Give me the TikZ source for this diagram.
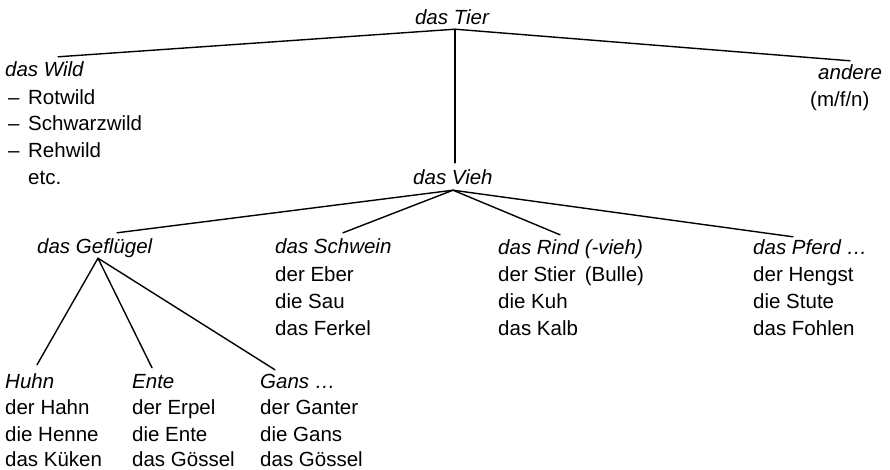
\documentclass[tikz,border=0pt]{standalone}
\usepackage{fontspec}
\setmainfont{Liberation Sans}
\usetikzlibrary{calc}
\begin{document}
\begin{tikzpicture}[x=1pt,y=-1pt,
  lbl/.style={inner sep=0pt,anchor=west,text height=14pt,text depth=2pt,font=\fontsize{20.5}{24}\selectfont},
  head/.style={lbl,font=\fontsize{20.5}{24}\selectfont\itshape},
  branch/.style={line width=1.4pt,line cap=round}]
\useasboundingbox (0,0) rectangle (890,469);

% root
\node[head,anchor=center] (tier) at (452,18) {das Tier};

% game animals
\node[head] (wild) at (5,70) {das Wild};
\node[lbl] (rot) at (5,98) {\makebox[23pt][l]{\hspace{3pt}–}Rotwild};
\node[lbl] (schwarz) at (5,124) {\makebox[23pt][l]{\hspace{3pt}–}Schwarzwild};
\node[lbl] (reh) at (5,151) {\makebox[23pt][l]{\hspace{3pt}–}Rehwild};
\node[lbl] (etc) at (28,178) {etc.};

% others
\node[head] (andere) at (818,73) {andere};
\node[lbl] (mfn) at (810,100) {(m/f/n)};

% livestock
\node[head] (vieh) at (413,178) {das Vieh};

\node[head] (gefl) at (37,247) {das Geflügel};

\node[head] (schwein) at (275,247) {das Schwein};
\node[lbl] (eber) at (275,275) {der Eber};
\node[lbl] (sau) at (275,302) {die Sau};
\node[lbl] (ferkel) at (275,329) {das Ferkel};

\node[head] (rind) at (498,248) {das Rind (-vieh)};
\node[lbl] (stier) at (498,275) {der Stier\, (Bulle)};
\node[lbl] (kuh) at (498,302) {die Kuh};
\node[lbl] (kalb) at (498,329) {das Kalb};

\node[head] (pferd) at (753,248) {das Pferd \dots};
\node[lbl] (hengst) at (753,275) {der Hengst};
\node[lbl] (stute) at (753,302) {die Stute};
\node[lbl] (fohlen) at (753,329) {das Fohlen};

% poultry
\node[head] (huhn) at (5,382) {Huhn};
\node[lbl] (hahn) at (5,408) {der Hahn};
\node[lbl] (henne) at (5,435) {die Henne};
\node[lbl] (kueken) at (5,460) {das Küken};

\node[head] (ente) at (132,382) {Ente};
\node[lbl] (erpel) at (132,408) {der Erpel};
\node[lbl] (entef) at (132,435) {die Ente};
\node[lbl] (goesa) at (132,460) {das Gössel};

\node[head] (gans) at (260,382) {Gans \dots};
\node[lbl] (ganter) at (260,408) {der Ganter};
\node[lbl] (gansf) at (260,435) {die Gans};
\node[lbl] (goesb) at (260,460) {das Gössel};

% branching points
\coordinate (tierhub) at ($(tier.south)+(3,3)$);
\coordinate (viehhub) at ($(vieh.south west)+(40,4)$);
\coordinate (geflhub) at ($(gefl.south west)+(61,3)$);

% tree
\draw[branch] (tierhub) -- ($(wild.north west)+(53,-5)$);
\draw[branch] (tierhub) -- ($(andere.north west)+(32,-4)$);
\draw[branch] (tierhub) -- ($(vieh.north west)+(42,-7)$);

\draw[branch] (viehhub) -- ($(gefl.north west)+(80,-6)$);
\draw[branch] (viehhub) -- ($(schwein.north west)+(68,-6)$);
\draw[branch] (viehhub) -- ($(rind.north west)+(62,-5)$);
\draw[branch] (viehhub) -- ($(pferd.north west)+(40,-3)$);

\draw[branch] (geflhub) -- ($(huhn.north west)+(32,-9)$);
\draw[branch] (geflhub) -- ($(ente.north west)+(20,-6)$);
\draw[branch] (geflhub) -- ($(gans.north west)+(15,-4)$);
\end{tikzpicture}
\end{document}
